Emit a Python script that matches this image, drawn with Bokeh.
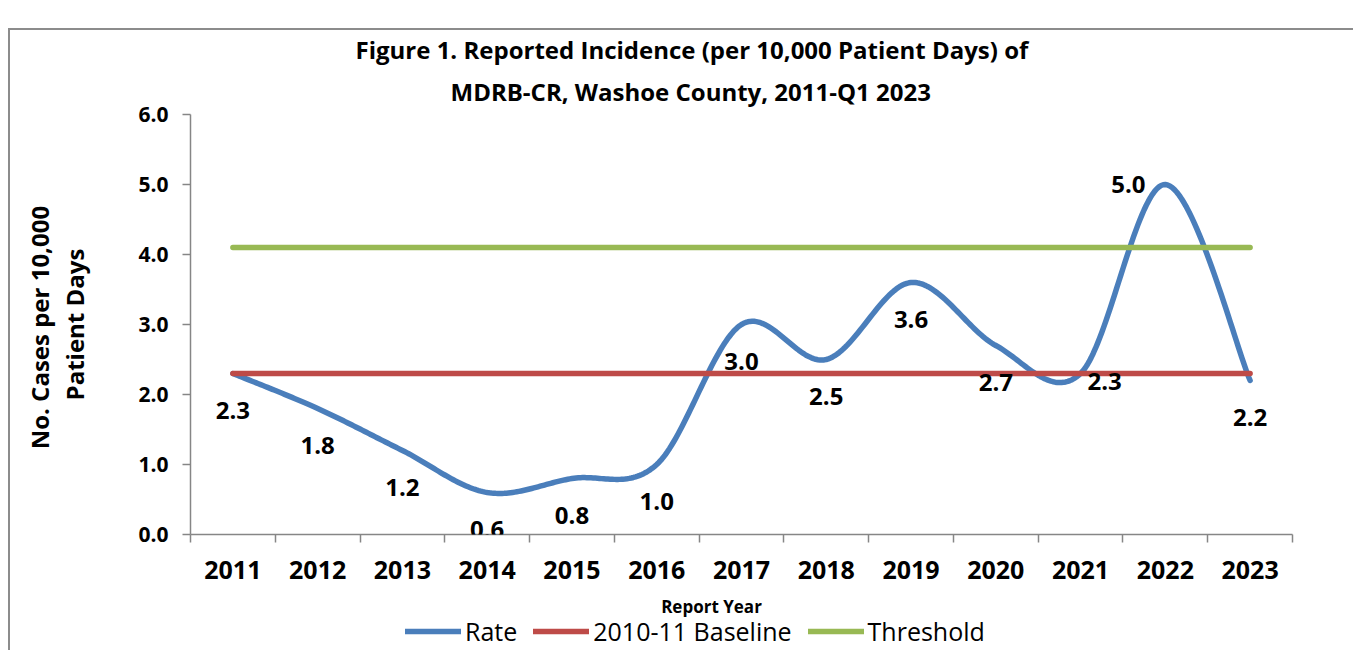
import numpy as np
from bokeh.plotting import figure
from bokeh.layouts import column
from bokeh.models import (ColumnDataSource, FixedTicker, Label, LabelSet,
                          Legend, LegendItem, LinearAxis, Range1d, Title)
from bokeh.core.properties import value
from bokeh.embed import file_html
from bokeh.resources import INLINE

# ---------------- data ----------------
years = ["2011", "2012", "2013", "2014", "2015", "2016", "2017",
         "2018", "2019", "2020", "2021", "2022", "2023"]
rate = [2.3, 1.8, 1.2, 0.6, 0.8, 1.0, 3.0, 2.5, 3.6, 2.7, 2.3, 5.0, 2.2]
baseline = [2.3, 2.3, 2.3, 2.3, 2.3, 2.3, 2.3, 2.3, 2.3, 2.3, 2.3, 2.3, 2.3]
threshold = [4.1, 4.1, 4.1, 4.1, 4.1, 4.1, 4.1, 4.1, 4.1, 4.1, 4.1, 4.1, 4.1]
y_ticks = [0, 1, 2, 3, 4, 5, 6]
y_tick_labels = ["0.0", "1.0", "2.0", "3.0", "4.0", "5.0", "6.0"]
rate_label_text = ["2.3", "1.8", "1.2", "0.6", "0.8", "1.0", "3.0",
                   "2.5", "3.6", "2.7", "2.3", "5.0", "2.2"]
title_lines = ["Figure 1. Reported Incidence (per 10,000 Patient Days) of",
               "MDRB-CR, Washoe County, 2011-Q1 2023"]
y_title_lines = ["No. Cases per  10,000", "Patient Days"]
x_title = "Report Year"
series_names = ["Rate", "2010-11 Baseline", "Threshold"]

# label placement (style, not data)
label_pos = ["below"] * 10 + ["right", "left", "below"]

BLUE = "#4A7EBB"
RED = "#BE4B48"
GREEN = "#98B954"
AXIS = "#868686"
FONT = "Open Sans"

n = len(years)
xc = np.arange(n) + 0.5


def smooth(xs, ys, steps=40):
    """Excel-like smoothed line: Catmull-Rom style cubic Bezier segments."""
    P = np.column_stack([xs, ys]).astype(float)
    ext = np.vstack([P[0], P, P[-1]])
    ox, oy = [], []
    for i in range(len(P) - 1):
        p0, p1, p2, p3 = ext[i], ext[i + 1], ext[i + 2], ext[i + 3]
        c1 = p1 + (p2 - p0) / 6.0
        c2 = p2 - (p3 - p1) / 6.0
        t = np.linspace(0, 1, steps, endpoint=(i == len(P) - 2))[:, None]
        b = ((1 - t) ** 3) * p1 + 3 * ((1 - t) ** 2) * t * c1 \
            + 3 * (1 - t) * t ** 2 * c2 + t ** 3 * p2
        ox.extend(b[:, 0])
        oy.extend(b[:, 1])
    return ox, oy


sx, sy = smooth(xc, rate)

# ---------------- sizes ----------------
W = 1343
H1, H2 = 560, 60                  # chart, legend strip
BL, BR = 180, 61
FW = W - BL - BR                  # frame width shared by both parts

# ---------------- main figure ----------------
p = figure(width=W, height=H1, output_backend="svg", toolbar_location=None,
           x_range=Range1d(0, n), y_range=Range1d(0, 6),
           min_border_left=BL, min_border_right=BR,
           min_border_top=82, min_border_bottom=56)
p.outline_line_color = None
p.xgrid.visible = False
p.ygrid.visible = False
p.background_fill_color = "white"
p.border_fill_color = "white"

r_rate = p.line(sx, sy, line_color=BLUE, line_width=5.5,
                line_cap="round", line_join="round")
r_base = p.line(xc, baseline, line_color=RED, line_width=5.5, line_cap="round")
r_thr = p.line(xc, threshold, line_color=GREEN, line_width=5.5, line_cap="round")

# data labels
off = {"below": (0, -37), "right": (24, -8), "left": (-37, 0)}
src = ColumnDataSource(dict(
    x=xc, y=rate, t=rate_label_text,
    dx=[off[k][0] for k in label_pos],
    dy=[off[k][1] for k in label_pos]))
labels = LabelSet(x="x", y="y", text="t", source=src,
                  x_offset="dx", y_offset="dy",
                  text_align="center", text_baseline="middle",
                  text_font=value(FONT), text_font_style="bold",
                  text_font_size="24px", text_color="black")
p.add_layout(labels)

# ---------------- axes ----------------
p.yaxis.ticker = FixedTicker(ticks=y_ticks)
p.yaxis.major_label_overrides = {t: l for t, l in zip(y_ticks, y_tick_labels)}
p.yaxis.minor_tick_line_color = None
p.yaxis.major_tick_in = 0
p.yaxis.major_tick_out = 8
p.yaxis.axis_line_color = AXIS
p.yaxis.major_tick_line_color = AXIS
p.yaxis.axis_line_width = 1.5
p.yaxis.major_tick_line_width = 1.5
p.yaxis.major_label_text_font = FONT
p.yaxis.major_label_text_font_style = "bold"
p.yaxis.major_label_text_font_size = "21px"
p.yaxis.major_label_text_color = "black"
p.yaxis.major_label_standoff = 14
p.yaxis.axis_label = y_title_lines[1]
p.yaxis.axis_label_text_font = FONT
p.yaxis.axis_label_text_font_style = "bold"
p.yaxis.axis_label_text_font_size = "24px"
p.yaxis.axis_label_text_color = "black"
p.yaxis.axis_label_standoff = 44

# outer y-axis carrying the first line of the y title only
y2 = LinearAxis(ticker=FixedTicker(ticks=[]), axis_line_color=None,
                major_tick_line_color=None, minor_tick_line_color=None,
                major_tick_out=0, major_tick_in=0, minor_tick_out=0,
                major_label_standoff=0,
                axis_label=y_title_lines[0], axis_label_text_font=FONT,
                axis_label_text_font_style="bold",
                axis_label_text_font_size="24px",
                axis_label_text_color="black", axis_label_standoff=0)
p.add_layout(y2, "left")

p.xaxis.ticker = FixedTicker(ticks=list(xc), minor_ticks=list(range(n + 1)))
p.xaxis.major_label_overrides = {float(x): y for x, y in zip(xc, years)}
p.xaxis.major_tick_line_color = None
p.xaxis.minor_tick_in = 0
p.xaxis.minor_tick_out = 8
p.xaxis.minor_tick_line_color = AXIS
p.xaxis.minor_tick_line_width = 1.5
p.xaxis.axis_line_color = AXIS
p.xaxis.axis_line_width = 1.5
p.xaxis.major_label_text_font = FONT
p.xaxis.major_label_text_font_style = "bold"
p.xaxis.major_label_text_font_size = "25px"
p.xaxis.major_label_text_color = "black"
p.xaxis.major_label_standoff = 18

# ---------------- title (two lines, above the frame) ----------------
t2 = Title(text=title_lines[1], align="left", offset=260, standoff=14,
           text_font=FONT, text_font_style="bold", text_font_size="24px",
           text_color="black")
t1 = Title(text=title_lines[0], align="left", offset=165, standoff=0,
           text_font=FONT, text_font_style="bold", text_font_size="24px",
           text_color="black")
p.add_layout(t2, "above")
p.add_layout(t1, "above")

# ---------------- bottom strip: x title + legend ----------------
pl = figure(width=W, height=H2, output_backend="svg", toolbar_location=None,
            x_range=Range1d(0, FW), y_range=Range1d(0, H2),
            min_border_left=BL, min_border_right=BR,
            min_border_top=0, min_border_bottom=0)
pl.axis.visible = False
pl.grid.visible = False
pl.outline_line_color = None
pl.background_fill_color = "white"
pl.border_fill_color = "white"

pl.add_layout(Label(x=521, y=44, text=x_title, text_align="center",
                    text_baseline="middle", text_font=FONT,
                    text_font_style="bold", text_font_size="17px",
                    text_color="black"))

# legend-only renderers (a single NaN point draws nothing)
l_rate = pl.line(x=[np.nan], y=[np.nan], line_color=BLUE, line_width=5.5,
                 line_cap="round")
l_base = pl.line(x=[np.nan], y=[np.nan], line_color=RED, line_width=5.5,
                 line_cap="round")
l_thr = pl.line(x=[np.nan], y=[np.nan], line_color=GREEN, line_width=5.5,
                line_cap="round")

legend = Legend(items=[LegendItem(label=series_names[0], renderers=[l_rate]),
                       LegendItem(label=series_names[1], renderers=[l_base]),
                       LegendItem(label=series_names[2], renderers=[l_thr])],
                orientation="horizontal", location=(215, 2),
                glyph_width=56, glyph_height=20, label_standoff=4, spacing=16,
                padding=0, margin=0, border_line_color=None,
                background_fill_alpha=0,
                label_text_font=FONT, label_text_font_size="25px",
                label_text_color="black")
pl.add_layout(legend, "center")

layout = column(p, pl, spacing=0)
layout.styles = {"margin-top": "28px", "margin-left": "8px",
                 "border-left": "2px solid #8c8c8c",
                 "border-top": "2px solid #8c8c8c"}

open("out.html", "w").write(file_html(layout, INLINE))
